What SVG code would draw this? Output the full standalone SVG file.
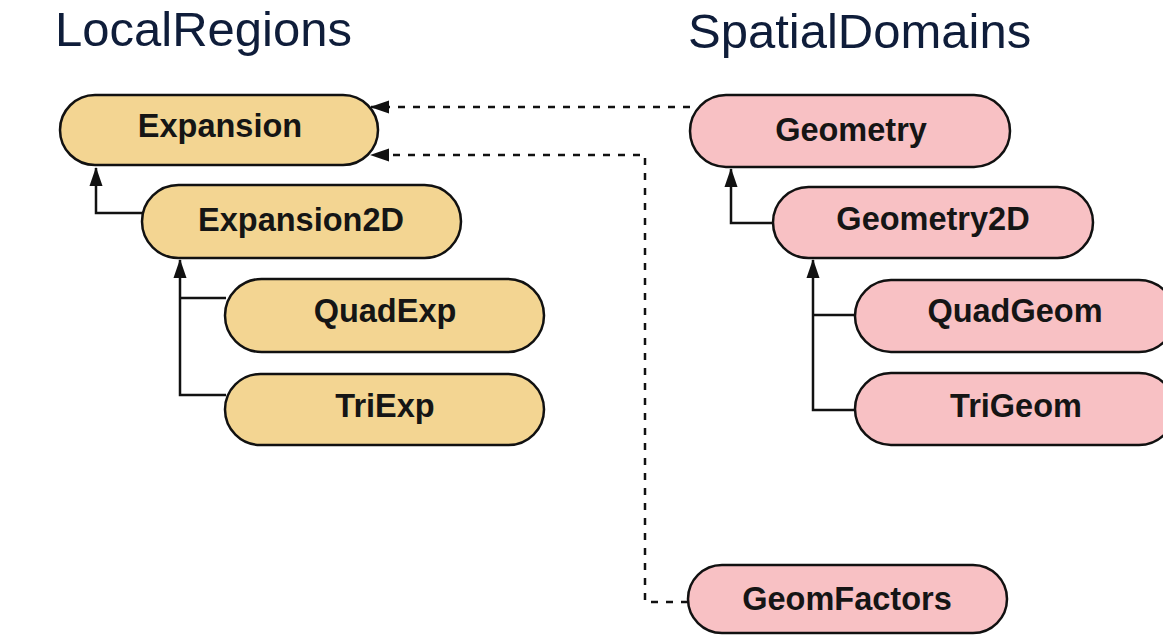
<svg xmlns="http://www.w3.org/2000/svg" width="1163" height="636" viewBox="0 0 1163 636">
  <style>
    .title { font-family: "Liberation Sans", Arial, sans-serif; font-size: 49px; fill: #0f1d3a; }
    .node rect { stroke: #111; stroke-width: 2.5; }
    .local rect { fill: #f3d592; }
    .spatial rect { fill: #f8c1c4; }
    .node text { font-family: "Liberation Sans", Arial, sans-serif; font-size: 32.5px; font-weight: bold; fill: #151515; text-anchor: middle; }
    .inherit { fill: none; stroke: #111; stroke-width: 2.5; }
    .uses { fill: none; stroke: #111; stroke-width: 2.5; stroke-dasharray: 7 8; }
  </style>
  <defs>
    <!-- filled triangular head shared by all connectors -->
    <marker id="arrow" viewBox="0 0 19 14" refX="18" refY="7" markerWidth="19" markerHeight="14" markerUnits="userSpaceOnUse" orient="auto">
      <path d="M0,0.5 L19,7 L0,13.5 Z" fill="#111"/>
    </marker>
  </defs>

  <rect width="1163" height="636" fill="#ffffff"/>

  <text class="title" x="55" y="46">LocalRegions</text>
  <text class="title" x="688" y="48">SpatialDomains</text>

  <g id="connectors">
    <path class="inherit" d="M143,213 H96 V168" marker-end="url(#arrow)"/>
    <path class="inherit" d="M226,395 H180 V260" marker-end="url(#arrow)"/>
    <path class="inherit" d="M226,298 H180"/>
    <path class="inherit" d="M774,223 H731 V169" marker-end="url(#arrow)"/>
    <path class="inherit" d="M856,410 H813 V260" marker-end="url(#arrow)"/>
    <path class="inherit" d="M856,315 H813"/>
    <path class="uses" d="M690,107 H371" marker-end="url(#arrow)"/>
    <path class="uses" d="M688,602 H645 V155 H371" marker-end="url(#arrow)"/>
  </g>

  <g id="Expansion" class="node local">
    <rect x="60" y="95" width="318" height="70" rx="35"/>
    <text x="220" y="137">Expansion</text>
  </g>
  <g id="Expansion2D" class="node local">
    <rect x="142" y="185" width="319" height="73" rx="36.5"/>
    <text x="301" y="231">Expansion2D</text>
  </g>
  <g id="QuadExp" class="node local">
    <rect x="225" y="279" width="319" height="73" rx="36.5"/>
    <text x="385" y="322">QuadExp</text>
  </g>
  <g id="TriExp" class="node local">
    <rect x="225" y="374" width="319" height="71" rx="35.5"/>
    <text x="385" y="417">TriExp</text>
  </g>

  <g id="Geometry" class="node spatial">
    <rect x="690" y="95" width="320" height="72" rx="36"/>
    <text x="851" y="141">Geometry</text>
  </g>
  <g id="Geometry2D" class="node spatial">
    <rect x="773" y="187" width="320" height="71" rx="35.5"/>
    <text x="933" y="230">Geometry2D</text>
  </g>
  <g id="QuadGeom" class="node spatial">
    <rect x="855" y="280" width="320" height="72" rx="36"/>
    <text x="1015" y="322">QuadGeom</text>
  </g>
  <g id="TriGeom" class="node spatial">
    <rect x="855" y="373" width="320" height="72" rx="36"/>
    <text x="1016" y="417">TriGeom</text>
  </g>
  <g id="GeomFactors" class="node spatial">
    <rect x="688" y="565" width="319" height="68" rx="34"/>
    <text x="847" y="610">GeomFactors</text>
  </g>
</svg>
